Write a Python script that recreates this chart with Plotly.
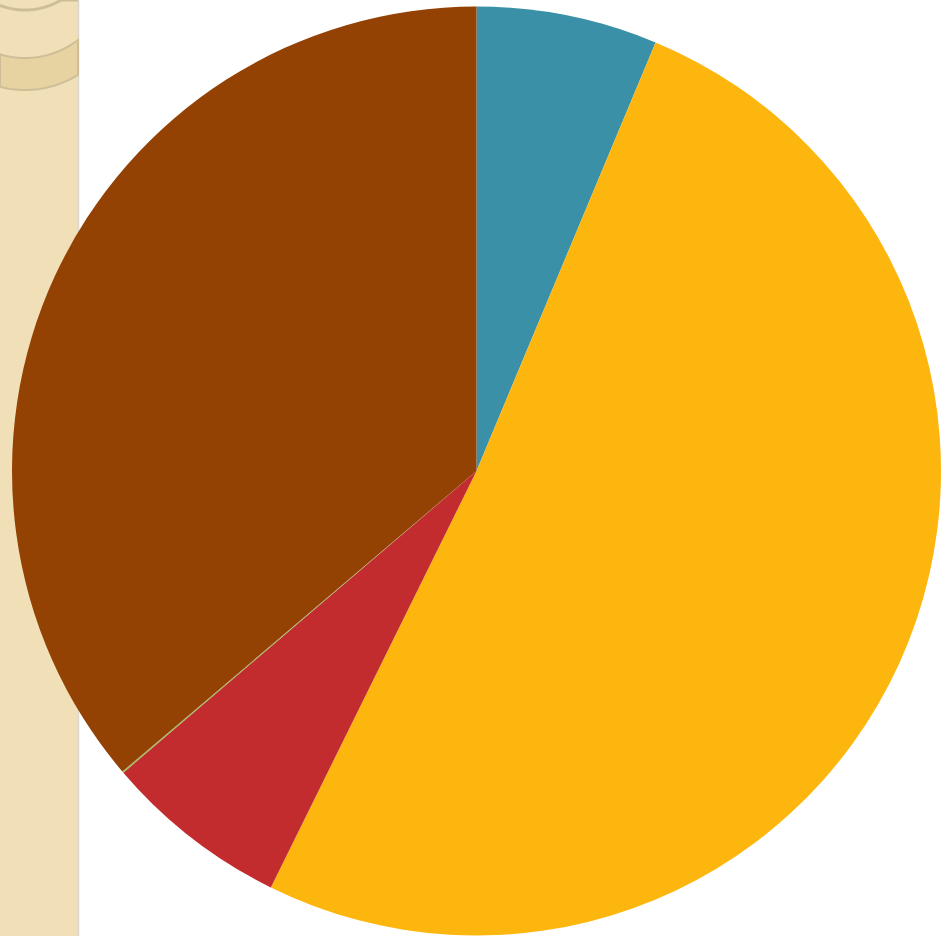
import numpy as np
import plotly.graph_objects as go

W, H = 941, 936

labels = ["Segment A", "Segment B", "Segment C", "Segment D", "Segment E"]
values = [6.3, 51.0, 6.45, 0.05, 36.2]
colors = ["#3A91A7", "#FDB60D", "#C22C2F", "#9BBB59", "#944104"]

fig = go.Figure()
fig.add_trace(go.Pie(
    labels=labels, values=values, sort=False, direction="clockwise", rotation=0,
    marker=dict(colors=colors, line=dict(width=0)),
    textinfo="none", hoverinfo="label+percent", showlegend=False,
    domain=dict(x=[12 / W, 1.0], y=[0.0, 1 - 6 / H]),
))

def px(x):
    return x / W

def py(y):
    return 1 - y / H

# decorative left strip
shapes = [
    dict(type="rect", xref="paper", yref="paper", x0=0, x1=px(78), y0=0, y1=1,
         fillcolor="#F1E0B7", line=dict(width=0), layer="below"),
    dict(type="line", xref="paper", yref="paper", x0=px(78.5), x1=px(78.5), y0=0, y1=1,
         line=dict(color="#D9D6CF", width=1.5), layer="below"),
]

# curved band (scroll) near the top of the strip
xs = np.linspace(0, 78, 40)
outer = -10 + np.sqrt(100 ** 2 - (xs - 25) ** 2)
inner = -29 + np.sqrt(87 ** 2 - (xs - 25) ** 2)
pts = [(x, y) for x, y in zip(xs, inner)] + [(x, y) for x, y in zip(xs[::-1], outer[::-1])]
path = "M " + " L ".join(f"{px(x):.5f},{py(y):.5f}" for x, y in pts) + " Z"
shapes.append(dict(type="path", xref="paper", yref="paper", path=path,
                   fillcolor="#E7D3A2", line=dict(color="#CDBE98", width=2), layer="below"))
# thin arc at very top
top = -60 + np.sqrt(70 ** 2 - (xs - 25) ** 2)
tpath = "M " + " L ".join(f"{px(x):.5f},{py(max(y, 0)):.5f}" for x, y in zip(xs, top))
shapes.append(dict(type="path", xref="paper", yref="paper", path=tpath,
                   line=dict(color="#CDBE98", width=3), layer="below"))

fig.update_layout(
    width=W, height=H, margin=dict(l=0, r=0, t=0, b=0),
    paper_bgcolor="white", plot_bgcolor="white",
    shapes=shapes, showlegend=False,
)

fig.write_html(
    "out.html",
    config={"displayModeBar": False},
    post_script="document.body.style.margin='0';document.body.style.overflow='hidden';",
)
